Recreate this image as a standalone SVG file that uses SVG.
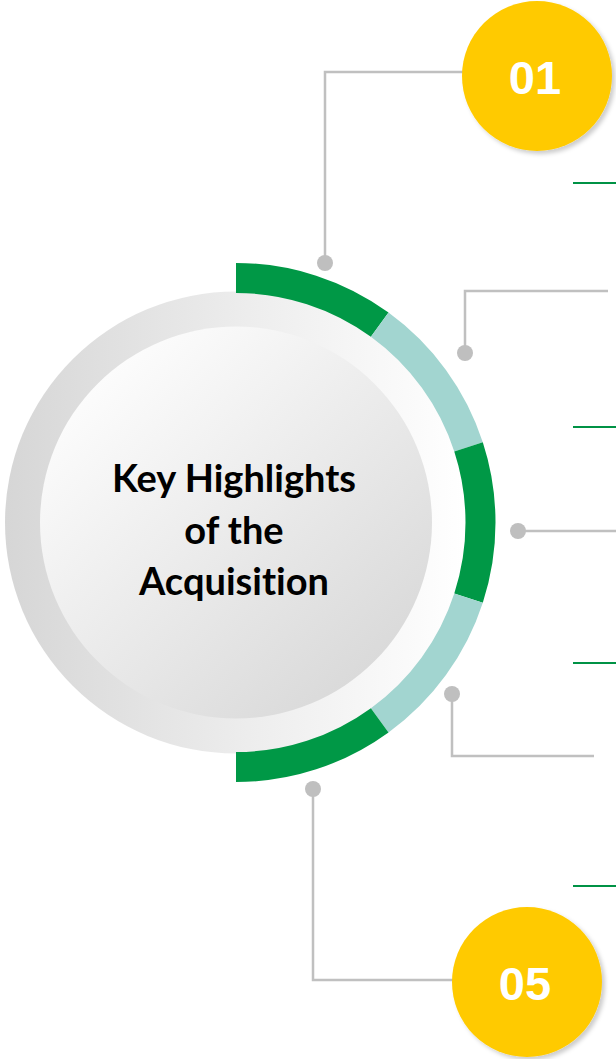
<svg xmlns="http://www.w3.org/2000/svg" width="616" height="1059" viewBox="0 0 616 1059">
<defs>
<linearGradient id="ringGrad" x1="0" y1="0" x2="1" y2="0">
<stop offset="0" stop-color="#d6d6d6"/>
<stop offset="0.55" stop-color="#eeeeee"/>
<stop offset="1" stop-color="#ffffff"/>
</linearGradient>
<linearGradient id="coreGrad" x1="0.15" y1="0.1" x2="0.85" y2="0.9">
<stop offset="0" stop-color="#fdfdfd"/>
<stop offset="1" stop-color="#d9d9d9"/>
</linearGradient>
<filter id="shadow" x="-20%" y="-20%" width="150%" height="150%">
<feDropShadow dx="3" dy="3" stdDeviation="2" flood-color="#000000" flood-opacity="0.2"/>
</filter>
</defs>
<style>
.conn{fill:none;stroke:#c0c0c0;stroke-width:2.5}
.dot{fill:#bfbfbf}
.gline{stroke:#009245;stroke-width:2}
.seg{fill:none;stroke-width:30}
.green{stroke:#009846}
.teal{stroke:#a2d5d0}
.badge{fill:#ffca05;filter:url(#shadow)}
.num{font-family:"Liberation Sans",Arial,sans-serif;font-weight:bold;font-size:47px;fill:#ffffff;text-anchor:middle}
.title{font-family:Lato,"Open Sans",sans-serif;font-weight:bold;font-size:38px;fill:#000000;text-anchor:middle;font-variant-ligatures:none;font-feature-settings:"liga" 0}
</style>
<rect width="616" height="1059" fill="#ffffff"/>
<g id="hub">
<circle cx="236" cy="522.5" r="231" fill="url(#ringGrad)"/>
<circle cx="236" cy="522.5" r="196" fill="url(#coreGrad)"/>
<text class="title" x="234" y="492">Key Highlights</text>
<text class="title" x="234" y="544">of the</text>
<text class="title" x="234" y="595">Acquisition</text>
</g>
<g id="arc">
<path class="seg green" d="M236,278 A244.5,244.5 0 0 1 379.71,324.70"/>
<path class="seg teal" d="M379.71,324.70 A244.5,244.5 0 0 1 468.54,446.95"/>
<path class="seg green" d="M468.54,446.95 A244.5,244.5 0 0 1 468.54,598.05"/>
<path class="seg teal" d="M468.54,598.05 A244.5,244.5 0 0 1 379.71,720.30"/>
<path class="seg green" d="M379.71,720.30 A244.5,244.5 0 0 1 236,767"/>
</g>
<g id="connectors">
<path class="conn" d="M325,263 V72 H470"/>
<path class="conn" d="M465,353 V291 H608"/>
<path class="conn" d="M518,531 H616"/>
<path class="conn" d="M452,694 V756 H594"/>
<path class="conn" d="M313,789 V980 H460"/>
<circle class="dot" cx="325" cy="263" r="8"/>
<circle class="dot" cx="465" cy="353" r="8"/>
<circle class="dot" cx="518" cy="531" r="8"/>
<circle class="dot" cx="452" cy="694" r="8"/>
<circle class="dot" cx="313" cy="789" r="8"/>
<line class="gline" x1="573" y1="183" x2="616" y2="183"/>
<line class="gline" x1="573" y1="427" x2="616" y2="427"/>
<line class="gline" x1="573" y1="663" x2="616" y2="663"/>
<line class="gline" x1="573" y1="886" x2="616" y2="886"/>
</g>
<g id="badge01">
<circle class="badge" cx="537" cy="76" r="75"/>
<text class="num" x="535" y="94">01</text>
</g>
<g id="badge05">
<circle class="badge" cx="527" cy="982" r="75"/>
<text class="num" x="525" y="1000">05</text>
</g>
</svg>
